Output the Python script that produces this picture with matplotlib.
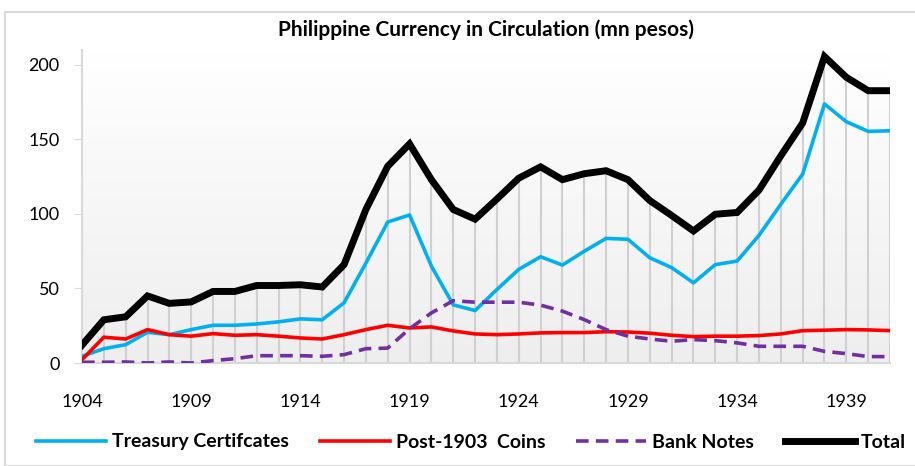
import matplotlib
matplotlib.use("Agg")
import matplotlib.pyplot as plt
import numpy as np
from matplotlib.patches import Rectangle

years = list(range(1904, 1942))

treasury = [4.5, 9.6, 12.3, 20.6, 19.0, 22.4, 25.3, 25.3, 26.2, 27.6, 29.6, 29.0,
            40.4, 67.0, 94.6, 99.3, 65.0, 39.0, 35.2, 49.3, 62.8, 71.3, 65.7, 75.0,
            83.6, 83.0, 70.6, 64.0, 53.8, 66.0, 68.4, 85.6, 106.5, 126.7, 173.8,
            161.9, 155.4, 155.8]
coins = [2.2, 17.3, 16.1, 22.4, 19.0, 18.0, 19.7, 18.6, 19.0, 18.0, 16.8, 16.1,
         19.0, 22.4, 25.3, 23.5, 24.2, 21.5, 19.5, 19.0, 19.5, 20.2, 20.4, 20.4,
         21.0, 20.8, 20.0, 18.6, 17.7, 18.0, 18.0, 18.4, 19.5, 21.7, 22.0, 22.4,
         22.2, 21.7]
bank_notes = [0.5, 0.5, 0.7, 0.0, 0.7, 0.0, 1.6, 2.9, 4.9, 4.9, 4.9, 4.5, 5.6,
              9.6, 10.0, 23.0, 33.6, 41.8, 40.8, 40.8, 40.8, 38.8, 34.8, 29.1,
              22.4, 18.0, 16.1, 14.6, 15.7, 15.0, 13.5, 11.2, 11.2, 11.2, 7.8,
              6.3, 4.3, 4.3]
total = [12, 29, 31, 45, 40, 41, 48, 48, 52, 52, 52.5, 51, 66, 103, 132, 147,
         123, 103, 96.5, 110, 124, 131.6, 123, 127, 129, 123, 109, 99, 88.6,
         99.8, 101, 116, 139, 161, 205.6, 191.7, 182.7, 182.7]

yticks = [0, 50, 100, 150, 200]
xticks = [1904, 1909, 1914, 1919, 1924, 1929, 1934, 1939]

plt.rcParams['font.family'] = ['Lato', 'DejaVu Sans']

fig = plt.figure(figsize=(9.15, 4.66), dpi=100)
ax = fig.add_axes([82 / 915, 1 - 363 / 466, (890 - 82) / 915, (363 - 50) / 466])

# outer chart border
fig.patches.append(Rectangle((5 / 915, 0.0), 1.0, 1 - 12 / 466, transform=fig.transFigure,
                             fill=False, edgecolor="#d9d9d9", lw=1.5))

# gradient plot background
grad = np.linspace(0, 1, 256).reshape(-1, 1)
ax.imshow(grad, aspect="auto", cmap=matplotlib.colors.LinearSegmentedColormap.from_list(
    "bg", ["#ffffff", "#eeeeee"]), extent=[1904, 1941, 0, 210], origin="upper", zorder=0)

ax.vlines(years, 0, total, colors="#d0d0d0", lw=1.5, zorder=1)

ax.plot(years, treasury, color="#00B0F0", lw=2.6, label="Treasury Certifcates", zorder=3)
ax.plot(years, coins, color="#FF0000", lw=2.6, label="Post-1903  Coins", zorder=3)
ax.plot(years, bank_notes, color="#7030A0", lw=2.6, ls=(0, (3.5, 2)), label="Bank Notes", zorder=3)
ax.plot(years, total, color="black", lw=5, label="Total", zorder=4, solid_joinstyle="miter")

ax.set_xlim(1904, 1941)
ax.set_ylim(0, 210)
ax.set_yticks(yticks)
ax.set_xticks(xticks)
ax.tick_params(axis="y", length=6, color="#d9d9d9", labelsize=13, pad=10)
ax.tick_params(axis="x", length=0, labelsize=13, pad=22)

for s in ["top", "right"]:
    ax.spines[s].set_visible(False)
ax.spines["left"].set_color("#d9d9d9")
ax.spines["bottom"].set_color("#d9d9d9")
ax.spines["left"].set_linewidth(1.5)
ax.spines["bottom"].set_linewidth(1.5)

fig.text(486 / 915, 1 - 30 / 466, "Philippine Currency in Circulation (mn pesos)",
         ha="center", va="center", fontsize=15, fontweight="bold")

leg = fig.legend(loc="center", bbox_to_anchor=(471 / 915, 1 - 442 / 466), ncol=4,
                 frameon=False, prop={"weight": "bold", "size": 14},
                 handlelength=3.6, columnspacing=1.6, handletextpad=0.3)

fig.savefig("out.png", dpi=100)
